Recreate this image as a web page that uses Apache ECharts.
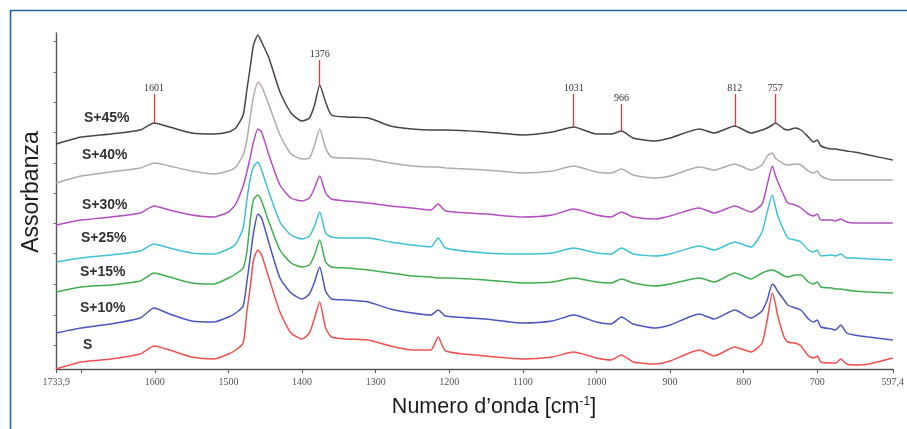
<!DOCTYPE html>
<html lang="it">
<head>
    <meta charset="UTF-8">
    <title>Spettri FTIR</title>
    <script src="https://cdn.jsdelivr.net/npm/echarts@6/dist/echarts.min.js"></script>
    <style>
        body { margin: 0; padding: 0; background: #fff; }
        #chart { width: 907px; height: 429px; }
    </style>
</head>
<body>
<div id="chart"></div>
<script>
    // numero d'onda (cm-1), asse invertito
    const wavenumbers = [
        1733.9, 1700, 1660, 1620, 1601, 1580, 1550, 1520, 1500, 1490,
        1480, 1475, 1470, 1466, 1460, 1455, 1445, 1430, 1415, 1400,
        1390, 1383, 1376, 1368, 1360, 1340, 1310, 1280, 1250, 1225,
        1215, 1205, 1150, 1100, 1060, 1031, 1000, 980, 966, 950,
        920, 900, 860, 840, 812, 790, 775, 768, 761, 757,
        754, 745, 740, 730, 722, 712, 705, 700, 695, 680,
        675, 668, 660, 650, 630, 597.4
    ];

    // assorbanza (spettri sfalsati)
    const s45 = [
        2.25, 2.32, 2.35, 2.39, 2.46, 2.42, 2.36, 2.35, 2.37, 2.41,
        2.54, 2.79, 3.04, 3.24, 3.34, 3.27, 3.11, 2.77, 2.56, 2.48,
        2.51, 2.64, 2.84, 2.67, 2.54, 2.52, 2.51, 2.43, 2.40, 2.39,
        2.39, 2.39, 2.37, 2.34, 2.37, 2.42, 2.35, 2.35, 2.38, 2.31,
        2.28, 2.31, 2.40, 2.36, 2.43, 2.36, 2.39, 2.41, 2.44, 2.46,
        2.45, 2.40, 2.39, 2.41, 2.39, 2.32, 2.27, 2.29, 2.23, 2.20,
        2.20, 2.19, 2.18, 2.17, 2.14, 2.09
    ];
    const s40 = [
        1.86, 1.93, 1.97, 2.01, 2.06, 2.03, 1.98, 1.95, 1.98, 2.02,
        2.14, 2.29, 2.54, 2.72, 2.87, 2.83, 2.64, 2.34, 2.15, 2.10,
        2.11, 2.24, 2.40, 2.21, 2.12, 2.11, 2.10, 2.06, 2.03, 2.02,
        2.02, 2.01, 1.99, 1.96, 1.98, 2.03, 1.97, 1.96, 2.00, 1.94,
        1.91, 1.93, 2.02, 1.99, 2.05, 1.99, 2.04, 2.13, 2.16, 2.11,
        2.09, 2.05, 2.04, 2.05, 2.04, 1.98, 1.96, 1.98, 1.93, 1.89,
        1.89, 1.89, 1.89, 1.89, 1.89, 1.89
    ];
    const s30 = [
        1.44, 1.49, 1.52, 1.56, 1.63, 1.59, 1.54, 1.52, 1.57, 1.65,
        1.83, 1.97, 2.13, 2.27, 2.40, 2.37, 2.14, 1.84, 1.71, 1.68,
        1.71, 1.81, 1.93, 1.76, 1.70, 1.68, 1.66, 1.63, 1.61, 1.59,
        1.65, 1.58, 1.55, 1.52, 1.54, 1.60, 1.54, 1.52, 1.57, 1.52,
        1.50, 1.53, 1.61, 1.56, 1.63, 1.57, 1.65, 1.84, 2.03, 1.94,
        1.88, 1.73, 1.66, 1.64, 1.61, 1.55, 1.53, 1.55, 1.49, 1.49,
        1.48, 1.50, 1.47, 1.46, 1.46, 1.46
    ];
    const s25 = [
        1.07, 1.11, 1.14, 1.18, 1.25, 1.21, 1.16, 1.15, 1.20, 1.25,
        1.41, 1.69, 1.92, 2.02, 2.07, 1.99, 1.77, 1.47, 1.34, 1.30,
        1.33, 1.43, 1.57, 1.36, 1.32, 1.31, 1.31, 1.27, 1.24, 1.22,
        1.31, 1.21, 1.16, 1.15, 1.16, 1.21, 1.16, 1.15, 1.21, 1.15,
        1.13, 1.15, 1.23, 1.19, 1.27, 1.22, 1.37, 1.57, 1.74, 1.63,
        1.54, 1.38, 1.31, 1.29, 1.27, 1.19, 1.17, 1.19, 1.13, 1.14,
        1.13, 1.15, 1.11, 1.11, 1.10, 1.09
    ];
    const s15 = [
        0.77, 0.82, 0.84, 0.88, 0.96, 0.92, 0.86, 0.85, 0.91, 0.95,
        1.01, 1.17, 1.51, 1.69, 1.74, 1.68, 1.47, 1.19, 1.06, 1.02,
        1.04, 1.14, 1.29, 1.07, 1.02, 1.01, 0.99, 0.96, 0.93, 0.92,
        0.91, 0.91, 0.89, 0.86, 0.87, 0.91, 0.87, 0.86, 0.90, 0.86,
        0.83, 0.85, 0.91, 0.87, 0.96, 0.90, 0.96, 0.98, 0.99, 0.98,
        0.97, 0.93, 0.92, 0.94, 0.94, 0.87, 0.85, 0.87, 0.82, 0.81,
        0.80, 0.80, 0.79, 0.78, 0.77, 0.76
    ];
    const s10 = [
        0.36, 0.41, 0.45, 0.51, 0.61, 0.55, 0.48, 0.47, 0.52, 0.56,
        0.63, 0.87, 1.14, 1.36, 1.55, 1.51, 1.26, 0.91, 0.76, 0.70,
        0.75, 0.87, 1.02, 0.78, 0.70, 0.69, 0.67, 0.60, 0.56, 0.54,
        0.59, 0.53, 0.50, 0.46, 0.48, 0.54, 0.47, 0.45, 0.52, 0.45,
        0.41, 0.44, 0.55, 0.50, 0.59, 0.51, 0.58, 0.69, 0.85, 0.82,
        0.78, 0.69, 0.64, 0.61, 0.59, 0.50, 0.47, 0.49, 0.42, 0.40,
        0.39, 0.44, 0.36, 0.34, 0.32, 0.29
    ];
    const s0 = [
        0.00, 0.07, 0.10, 0.15, 0.23, 0.19, 0.12, 0.10, 0.15, 0.19,
        0.26, 0.57, 0.84, 1.09, 1.19, 1.14, 0.91, 0.57, 0.36, 0.30,
        0.36, 0.51, 0.67, 0.41, 0.32, 0.30, 0.29, 0.23, 0.19, 0.19,
        0.32, 0.18, 0.13, 0.10, 0.12, 0.17, 0.11, 0.09, 0.14, 0.07,
        0.05, 0.08, 0.19, 0.13, 0.22, 0.17, 0.26, 0.49, 0.76, 0.66,
        0.54, 0.32, 0.27, 0.26, 0.23, 0.13, 0.11, 0.13, 0.07, 0.06,
        0.06, 0.10, 0.05, 0.04, 0.05, 0.11
    ];

    const seriesNames = ['S+45%', 'S+40%', 'S+30%', 'S+25%', 'S+15%', 'S+10%', 'S'];
    const seriesValues = [s45, s40, s30, s25, s15, s10, s0];
    const seriesColors = ['#4d4343', '#b3a9a9', '#b44fc2', '#3fc0d6', '#3fae4f', '#4b57c0', '#f0504f'];

    // picchi segnati sopra lo spettro S+45%
    const peaks = [1601, 1376, 1031, 966, 812, 757];
    const peakTops = [2.75, 3.09, 2.75, 2.65, 2.75, 2.75];

    const xLabelValues = [1733.9, 1600, 1500, 1400, 1300, 1200, 1100, 1000, 900, 800, 700, 597.4];
    const xTickValues = [1733.9, 1700, 1600, 1500, 1400, 1300, 1200, 1100, 1000, 900, 800, 700, 597.4];
    const yTickValues = [0.24, 0.54, 0.85, 1.16, 1.46, 1.76, 2.06, 2.37, 2.67, 2.97, 3.28];

    // posizione (px) delle etichette dei campioni
    const labelPos = [[84, 118], [82, 155], [82, 205], [81, 238], [80, 272], [80, 308], [83, 345]];

    const chart = echarts.init(document.getElementById('chart'), null, { renderer: 'canvas' });

    const series = seriesNames.map(function (name, k) {
        const vals = seriesValues[k];
        const s = {
            name: name,
            type: 'line',
            data: wavenumbers.map(function (w, i) { return [w, vals[i]]; }),
            showSymbol: false,
            smooth: 0.2,
            lineStyle: { color: seriesColors[k], width: 1.5 },
            itemStyle: { color: seriesColors[k] },
            z: 3 + k,
            silent: true
        };
        if (k === 0) {
            s.markLine = {
                silent: true,
                symbol: ['none', 'none'],
                lineStyle: { color: '#e8393a', width: 1.3, type: 'solid' },
                label: {
                    show: true,
                    position: 'end',
                    distance: 1,
                    formatter: '{b}',
                    fontFamily: 'Liberation Serif, DejaVu Serif, serif',
                    fontSize: 10,
                    color: '#333'
                },
                data: peaks.map(function (p, j) {
                    const y0 = vals[wavenumbers.indexOf(p)];
                    return [{ name: String(p), coord: [p, y0] }, { coord: [p, peakTops[j]] }];
                })
            };
        }
        return s;
    });

    const graphics = [
        {
            type: 'rect',
            left: 8, top: 8,
            shape: { width: 1000, height: 1000 },
            style: { fill: 'none', stroke: '#2563a6', lineWidth: 1.6 },
            silent: true
        },
        {
            type: 'text',
            x: 32, y: 192,
            rotation: Math.PI / 2,
            style: {
                text: 'Assorbanza',
                fontFamily: 'Liberation Sans, Arial, sans-serif',
                fontSize: 23,
                fill: '#1b1b1b',
                align: 'center',
                verticalAlign: 'middle'
            }
        },
        {
            type: 'text',
            x: 494, y: 407,
            style: {
                text: '{a|Numero d\u2019onda [cm}{s|-1}{a|]}',
                align: 'center',
                verticalAlign: 'middle',
                rich: {
                    a: { fontFamily: 'Liberation Sans, Arial, sans-serif', fontSize: 21.5, fill: '#1b1b1b' },
                    s: { fontFamily: 'Liberation Sans, Arial, sans-serif', fontSize: 12, fill: '#1b1b1b', padding: [0, 0, 10, 0] }
                }
            }
        }
    ].concat(seriesNames.map(function (name, k) {
        return {
            type: 'text',
            x: labelPos[k][0], y: labelPos[k][1],
            style: {
                text: name,
                fontFamily: 'Liberation Sans, Arial, sans-serif',
                fontWeight: 'bold',
                fontSize: 14,
                fill: '#333',
                verticalAlign: 'middle'
            }
        };
    }));

    chart.setOption({
        animation: false,
        backgroundColor: '#fff',
        grid: { left: 56.3, right: 13.3, top: 33, bottom: 60 },
        xAxis: {
            type: 'value',
            inverse: true,
            min: 597.4,
            max: 1733.9,
            splitLine: { show: false },
            axisLine: { lineStyle: { color: '#555', width: 1.4 } },
            axisTick: { show: true, length: 4, customValues: xTickValues, lineStyle: { color: '#555' } },
            axisLabel: {
                customValues: xLabelValues,
                formatter: function (v) { return String(v).replace('.', ','); },
                fontFamily: 'Liberation Serif, DejaVu Serif, serif',
                fontSize: 10,
                color: '#555',
                margin: 8
            }
        },
        yAxis: {
            type: 'value',
            min: 0,
            max: 3.36,
            splitLine: { show: false },
            axisLine: { show: true, lineStyle: { color: '#555', width: 1.4 } },
            axisTick: { show: true, length: 3, customValues: yTickValues, lineStyle: { color: '#777' } },
            axisLabel: { show: false }
        },
        series: series,
        graphic: graphics
    });

    window.onresize = function () {
        chart.resize();
    };
</script>
</body>
</html>
